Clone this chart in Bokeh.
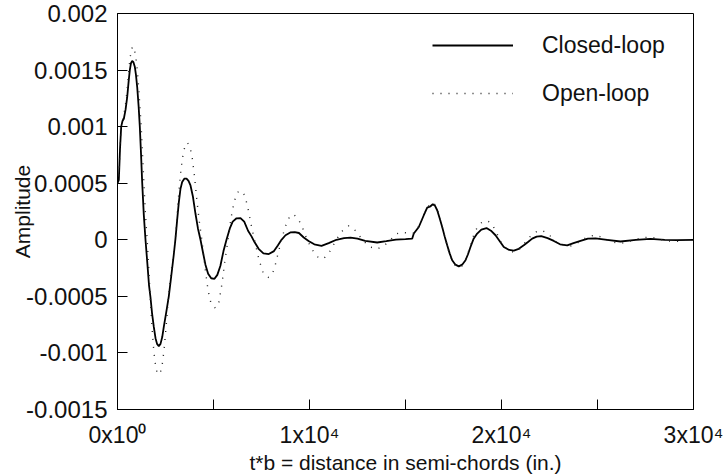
from bokeh.plotting import figure
from bokeh.models import Legend, FixedTicker, Range1d
from bokeh.embed import file_html
from bokeh.resources import INLINE

# Response of the section versus travelled distance (in semi-chords)
closed_x = [0, 70, 130, 193, 260, 330, 420, 505, 580, 641, 700, 765, 830, 901, 960,
            1026, 1100, 1162, 1225, 1285, 1370, 1458, 1560, 1640, 1719, 1800, 1891,
            1980, 2060, 2151, 2240, 2330, 2411, 2540, 2672, 2800, 2932, 3020, 3110,
            3194, 3280, 3368, 3480, 3594, 3700, 3802, 3930, 4062, 4190, 4323, 4450,
            4580, 4720, 4880, 5052, 5200, 5360, 5520, 5677, 5850, 6000, 6200, 6406,
            6600, 6800, 6980, 7135, 7350, 7600, 7880, 8150, 8350, 8540, 8750, 9000,
            9234, 9450, 9700, 9950, 10250, 10625, 11000, 11400, 11800, 12135, 12500,
            12900, 13526, 14000, 14500, 15000, 15347, 15432, 15693, 15953, 16130,
            16302, 16422, 16540, 16651, 16780, 16911, 17040, 17172, 17300, 17432,
            17600, 17776, 17950, 18125, 18250, 18385, 18550, 18734, 18950, 19219,
            19450, 19688, 19900, 20120, 20400, 20641, 20900, 21161, 21380, 21599,
            21830, 22068, 22400, 22724, 23050, 23422, 23750, 24115, 24500, 24896,
            25500, 26198, 27000, 27760, 28500, 29151, 30000]
closed_y = [0.00050, 0.00053, 0.00080, 0.00100, 0.00105, 0.00107, 0.00115, 0.00126,
            0.00140, 0.00150, 0.00156, 0.00158, 0.00157, 0.00153, 0.00146, 0.00135,
            0.00118, 0.00100, 0.00076, 0.00051, 0.00022, 0.00000, -0.00022, -0.00040,
            -0.00051, -0.00065, -0.00077, -0.00087, -0.00092, -0.00094, -0.00092,
            -0.00086, -0.00077, -0.00064, -0.00050, -0.00032, -0.00013, 0.00001,
            0.00018, 0.00033, 0.00045, 0.00051, 0.00054, 0.000541, 0.00052, 0.00048,
            0.00038, 0.00023, 0.00010, 0.00000, -0.00011, -0.00022, -0.00030,
            -0.00034, -0.000345, -0.00031, -0.00023, -0.00010, 0.00000, 0.00010,
            0.00016, 0.00019, 0.000192, 0.00016, 0.00008, 0.00003, -0.00002,
            -0.00008, -0.00012, -0.000126, -0.00010, -0.00005, 0.00000, 0.00004,
            0.000065, 0.000068, 0.00006, 0.00002, -0.00001, -0.00004, -0.000053,
            -0.00003, 0.00000, 0.000015, 0.00002, 0.00001, -0.00001, -0.000024,
            -0.000012, 0.000002, 0.000006, 0.00001, 0.000055, 0.000113, 0.000217,
            0.000285, 0.000296, 0.000314, 0.00030, 0.000261, 0.00019, 0.000113,
            0.00003, -0.000049, -0.00012, -0.000181, -0.00022, -0.000235, -0.00022,
            -0.000181, -0.00013, -0.000064, 0.00001, 0.000055, 0.00009, 0.000104,
            0.00008, 0.00004, -0.00001, -0.000064, -0.00009, -0.000095, -0.00008,
            -0.000049, -0.00002, 0.00001, 0.000028, 0.000033, 0.000015, -0.00001,
            -0.00004, -0.00005, -0.00003, -0.00001, 0.00001, 0.000012, 0.0,
            -0.000015, 0.0, 0.000008, 0.0, -0.000003, 0.0]

open_x = [0, 70, 130, 193, 260, 330, 420, 505, 580, 650, 720, 797, 870, 950, 1030,
          1100, 1170, 1234, 1310, 1390, 1470, 1545, 1640, 1730, 1820, 1900, 1990,
          2070, 2151, 2240, 2330, 2420, 2540, 2660, 2780, 2900, 3020, 3140, 3260,
          3380, 3500, 3630, 3760, 3880, 4010, 4140, 4270, 4400, 4560, 4720, 4880,
          5104, 5280, 5440, 5600, 5755, 5920, 6080, 6250, 6443, 6640, 6830, 7000,
          7160, 7360, 7600, 7880, 8150, 8350, 8540, 8750, 8950, 9150, 9400, 9650,
          9900, 10150, 10400, 10713, 11000, 11200, 11400, 11650, 12047, 12400,
          12760, 13100, 13526, 13900, 14220, 14500, 14740, 15000, 15347, 15432,
          15693, 15953, 16130, 16302, 16410, 16540, 16651, 16780, 16911, 17040,
          17172, 17300, 17432, 17600, 17776, 17950, 18125, 18250, 18385, 18550,
          18734, 18950, 19254, 19500, 19750, 20000, 20300, 20641, 20950, 21250,
          21550, 21850, 22120, 22450, 22780, 23100, 23505, 23850, 24200, 24550,
          24896, 25250, 25600, 25950, 26286, 26650, 27000, 27400, 27760, 28100,
          28500, 28800, 29151, 29500, 30000]
open_y = [0.00050, 0.00053, 0.00080, 0.00100, 0.00106, 0.00110, 0.00120, 0.00133,
          0.00148, 0.00160, 0.00168, 0.00171, 0.00169, 0.00162, 0.00150, 0.00135,
          0.00117, 0.00100, 0.00073, 0.00045, 0.00018, 0.00000, -0.00030, -0.00058,
          -0.00083, -0.00100, -0.00112, -0.00118, -0.00119, -0.00117, -0.00110,
          -0.00098, -0.00075, -0.00050, -0.00030, -0.00014, 0.00002, 0.00030,
          0.00055, 0.00072, 0.00082, 0.00086, 0.00083, 0.00074, 0.00056, 0.00034,
          0.00015, -0.00001, -0.00025, -0.00045, -0.00057, -0.000605, -0.00055,
          -0.00039, -0.00018, 0.00000, 0.00020, 0.00034, 0.00042, 0.000434,
          0.00039, 0.00025, 0.00010, -0.00002, -0.00017, -0.00030, -0.000334,
          -0.00027, -0.00013, 0.00000, 0.00012, 0.00020, 0.000227, 0.00019,
          0.00010, -0.00001, -0.00009, -0.00015, -0.00017, -0.00012, -0.00006,
          0.00000, 0.00007, 0.000124, 0.00008, 0.00000, -0.00006, -0.000082,
          -0.00005, 0.00000, 0.00005, 0.000065, 0.000062, 0.000055, 0.00006,
          0.00012, 0.00022, 0.00029, 0.00031, 0.00033, 0.00031, 0.00027, 0.00020,
          0.00012, 0.00003, -0.00005, -0.00013, -0.00019, -0.00023, -0.00024,
          -0.00023, -0.00018, -0.00012, -0.00005, 0.00004, 0.00011, 0.00015,
          0.000170, 0.00014, 0.00006, -0.00003, -0.00009, -0.000110, -0.00008,
          -0.00002, 0.00004, 0.000075, 0.000082, 0.00005, -0.00001, -0.00004,
          -0.00006, -0.00004, 0.00000, 0.00003, 0.000042, 0.00002, -0.00001,
          -0.000025, -0.00003, -0.000015, 0.000005, 0.00002, 0.000024, 0.00001,
          -0.000005, -0.000012, -0.000014, -0.000006, 0.000004]

x_ticks = [0, 5000, 10000, 15000, 20000, 25000, 30000]
x_tick_labels = ["0x10\u2070", "", "1x10\u2074", "", "2x10\u2074", "", "3x10\u2074"]
y_ticks = [-0.0015, -0.001, -0.0005, 0.0, 0.0005, 0.001, 0.0015, 0.002]
y_tick_labels = ["-0.0015", "-0.001", "-0.0005", "0", "0.0005", "0.001", "0.0015", "0.002"]

FONT = "Liberation Sans"
INK = "#111111"

p = figure(width=723, height=476, output_backend="svg", toolbar_location=None,
           x_range=Range1d(0, 30000), y_range=Range1d(-0.0015, 0.002),
           min_border_left=117, min_border_right=30, min_border_top=13,
           min_border_bottom=67)
p.grid.visible = False
p.outline_line_color = "black"
p.outline_line_width = 1
p.background_fill_color = "white"
p.border_fill_color = "white"

r_closed = p.line(closed_x, closed_y, line_color="black", line_width=1.8)
r_open = p.line(open_x, open_y, line_color="#222222", line_width=1.4,
                line_dash="1 7")

for ax in (p.xaxis[0], p.yaxis[0]):
    ax.major_tick_in = 10
    ax.major_tick_out = 0
    ax.minor_tick_in = 0
    ax.minor_tick_out = 0
    ax.major_tick_line_color = "black"
    ax.axis_line_color = "black"
    ax.major_label_text_font = FONT
    ax.major_label_text_color = INK
    ax.axis_label_text_font = FONT
    ax.axis_label_text_font_style = "normal"
    ax.axis_label_text_color = INK

p.xaxis.ticker = FixedTicker(ticks=x_ticks)
p.xaxis.major_label_overrides = dict(zip(x_ticks, x_tick_labels))
p.xaxis.major_label_text_font_size = "23px"
p.xaxis.major_label_standoff = 12
p.xaxis.axis_label = "t*b = distance in semi-chords (in.)"
p.xaxis.axis_label_text_font_size = "21px"
p.xaxis.axis_label_standoff = 0

p.yaxis.ticker = FixedTicker(ticks=y_ticks)
p.yaxis.major_label_overrides = dict(zip(y_ticks, y_tick_labels))
p.yaxis.major_label_text_font_size = "24px"
p.yaxis.major_label_standoff = 10
p.yaxis.axis_label = "Amplitude"
p.yaxis.axis_label_text_font_size = "21px"
p.yaxis.axis_label_standoff = -11

legend = Legend(items=[("Closed-loop", [r_closed]), ("Open-loop", [r_open])],
                location=(315, 302), glyph_width=81, glyph_height=28,
                label_height=28, label_standoff=29, spacing=20, padding=0,
                margin=0, border_line_alpha=0, background_fill_alpha=0,
                label_text_font=FONT, label_text_font_size="23px",
                label_text_color=INK)
p.add_layout(legend)

open("out.html", "w").write(file_html(p, INLINE))
